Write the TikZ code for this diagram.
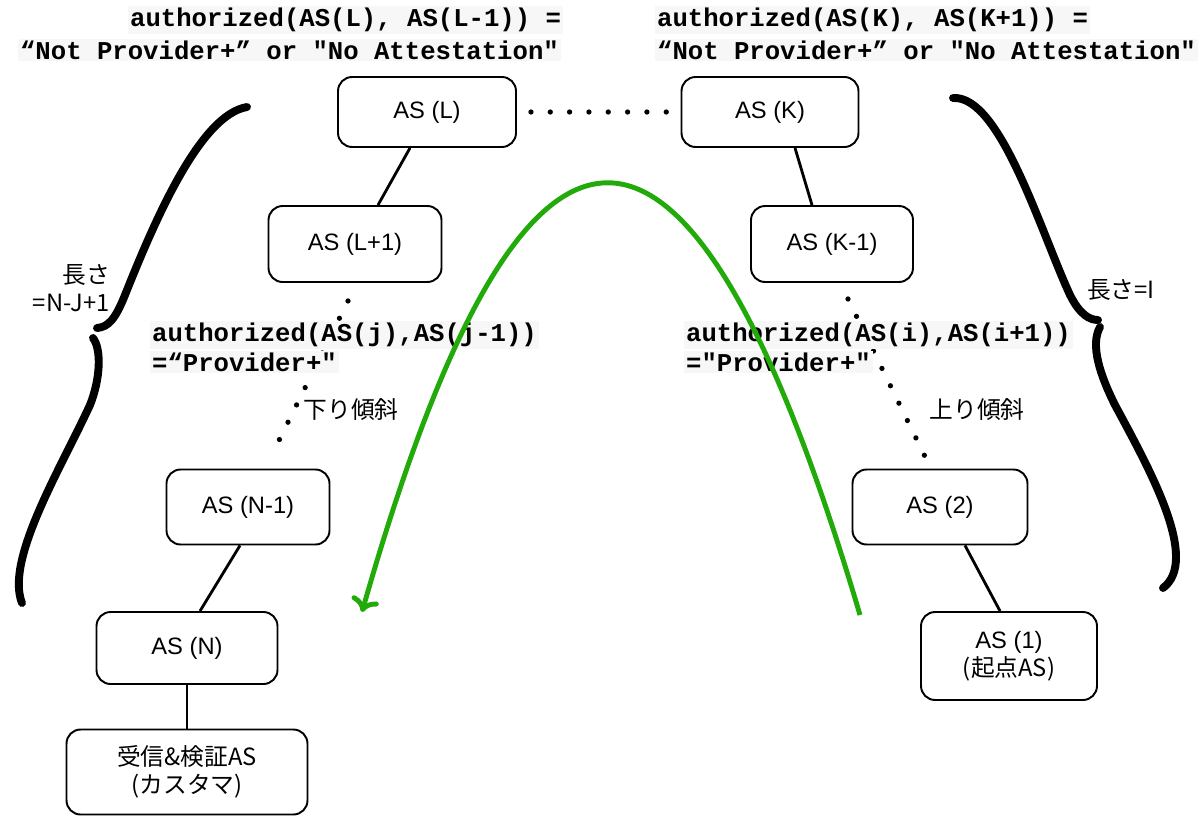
\documentclass[tikz,border=0pt]{standalone}
\usepackage{fontspec}
\setmainfont{Liberation Sans}
\newfontfamily\jp{Noto Sans CJK JP}
\newfontfamily\code{Liberation Mono}
\usepackage{xcolor}
\usetikzlibrary{calc,arrows.meta}
\definecolor{arcgreen}{RGB}{34,170,10}
\tikzset{
  asbox/.style={draw,rounded corners=8pt,line width=1.1pt,align=center,
    font=\fontsize{13.5}{16}\selectfont},
  link/.style={line width=1.6pt},
  dotlink/.style={line width=3pt,line cap=round,dash pattern=on 0pt off 11pt},
  codetxt/.style={font=\code\bfseries\fontsize{14.6}{17}\selectfont,inner sep=1pt,fill=gray!6,anchor=west},
  jptxt/.style={font=\jp\fontsize{13.5}{16}\selectfont,inner sep=1pt},
  brace/.style={line width=4.5pt,line cap=round}
}

\begin{document}
\begin{tikzpicture}[x=0.02cm,y=-0.02cm]
\useasboundingbox (0,0) rectangle (1200,822);

% boxes
\node[asbox,minimum width=3.56cm,minimum height=1.4cm] (asl) at (427,112) {AS (L)};
\node[asbox,minimum width=3.54cm,minimum height=1.4cm] (ask) at (770,112) {AS (K)};
\node[asbox,minimum width=3.46cm,minimum height=1.52cm] (aslp) at (355,244) {AS (L+1)};
\node[asbox,minimum width=3.24cm,minimum height=1.52cm] (askm) at (832,244) {AS (K-1)};
\node[asbox,minimum width=3.26cm,minimum height=1.5cm] (asnm) at (248,507) {AS (N-1)};
\node[asbox,minimum width=3.5cm,minimum height=1.5cm] (astwo) at (940,507) {AS (2)};
\node[asbox,minimum width=3.62cm,minimum height=1.44cm] (asn) at (187,648) {AS (N)};
\node[asbox,minimum width=3.52cm,minimum height=1.76cm] (asone) at (1009,656) {AS (1)\\{\jp (起点AS)}};
\node[asbox,minimum width=4.82cm,minimum height=1.7cm] (recv) at (187,772) {\jp 受信\&検証AS\\\jp (カスタマ)};

% connectors
\draw[link] ($(asl.south)+(-17,0)$) -- ($(aslp.north)+(23,0)$);
\draw[link] ($(ask.south)+(25,0)$) -- ($(askm.north)+(-20,0)$);
\draw[link] ($(asnm.south)+(-8,0)$) -- ($(asn.north)+(13,0)$);
\draw[link] ($(astwo.south)+(25,0)$) -- ($(asone.north)+(-9,0)$);
\draw[link] (asn.south) -- (recv.north);
\draw[dotlink] ($(asl.east)+(14,0)$) -- ($(ask.west)+(-10,0)$);
\draw[dotlink] ($(aslp.south)+(-7,18)$) -- ($(asnm.north)+(24,-14)$);
\draw[dotlink] ($(askm.south)+(16,16)$) -- ($(astwo.north)+(-15,-12)$);

% labels
\node[codetxt] (topl1) at (128,20) {authorized(AS(L), AS(L-1)) =};
\node[codetxt] (topl2) at (18,50) {“Not Provider+” or "No Attestation"};
\node[codetxt] (topr1) at (655,20) {authorized(AS(K), AS(K+1)) =};
\node[codetxt] (topr2) at (655,50) {“Not Provider+” or "No Attestation"};
\node[codetxt] (midl1) at (150,335) {authorized(AS(j),AS(j-1))};
\node[codetxt] (midl2) at (150,362) {=“Provider+"};
\node[codetxt] (midr1) at (684,335) {authorized(AS(i),AS(i+1))};
\node[codetxt] (midr2) at (684,362) {="Provider+"};
\node[jptxt] (down) at (351,410) {下り傾斜};
\node[jptxt] (up) at (977,410) {上り傾斜};
\node[jptxt,align=right,anchor=east] (lenl) at (112,288) {長さ\\=N-J+1};
\node[jptxt,anchor=west] (lenr) at (1085,290) {長さ=I};

% braces
\draw[brace] (247,107) .. controls (200,115) and (155,220) .. (125,295)
  .. controls (115,320) and (108,327) .. (97,328);
\draw[brace] (93,338) .. controls (102,350) and (100,380) .. (90,405)
  .. controls (60,470) and (5,560) .. (22,603);
\draw[brace] (953,98) .. controls (1000,95) and (1040,230) .. (1070,295)
  .. controls (1080,315) and (1090,320) .. (1098,320);
\draw[brace] (1100,327) .. controls (1090,345) and (1100,375) .. (1115,405)
  .. controls (1150,470) and (1200,560) .. (1163,588);

% green arc
\draw[arcgreen,line width=2.8pt,-{To[length=8pt,width=16pt,line width=2.8pt]}]
  (860,615) .. controls (690,40) and (525,40) .. (362,612);
\end{tikzpicture}
\end{document}
